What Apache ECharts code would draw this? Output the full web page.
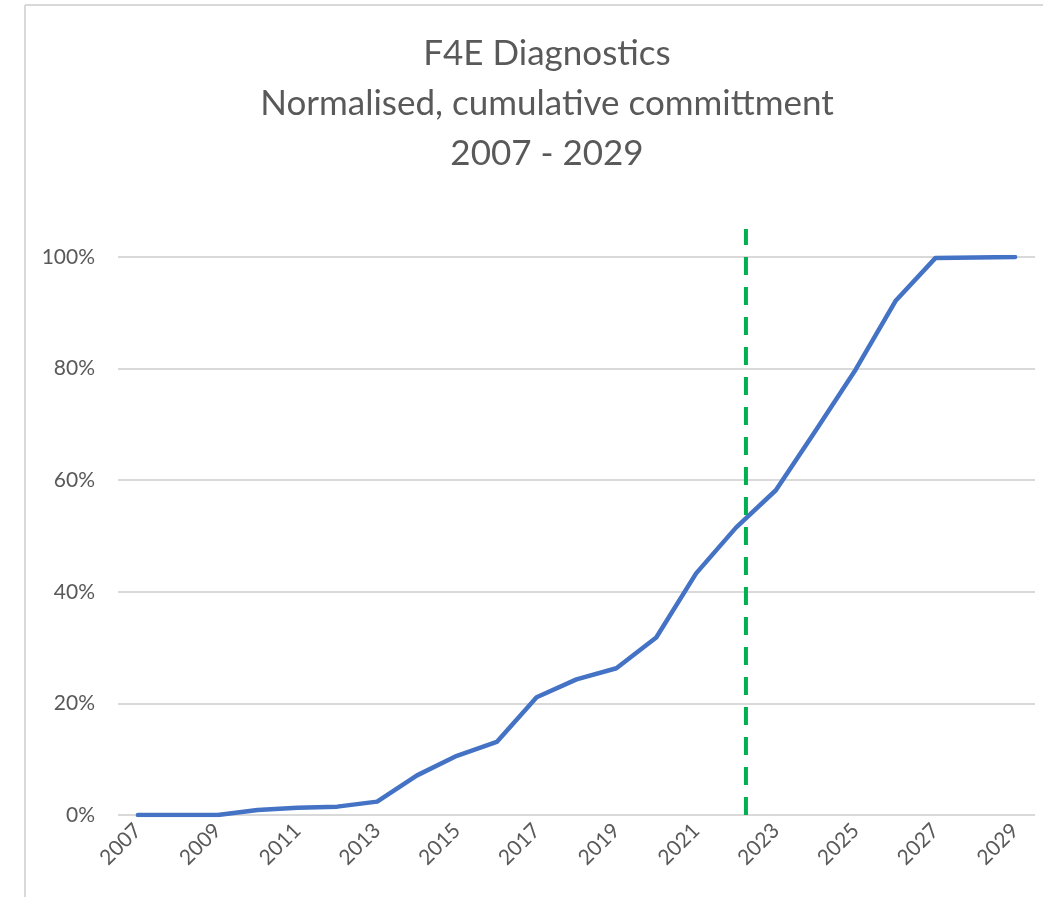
<!DOCTYPE html>
<html>
<head>
<meta charset="utf-8">
<script src="https://cdn.jsdelivr.net/npm/echarts@6/dist/echarts.min.js"></script>
<style>
html,body{margin:0;padding:0;background:#fff;}
#chart{width:1043px;height:897px;}
</style>
</head>
<body>
<div id="chart"></div>
<script>
// Data
var titleLines = ['F4E Diagnostics', 'Normalised, cumulative committment', '2007 - 2029'];
var years = ['2007','2008','2009','2010','2011','2012','2013','2014','2015','2016','2017','2018','2019','2020','2021','2022','2023','2024','2025','2026','2027','2028','2029'];
var commitment = [0, 0, 0, 0.009, 0.013, 0.015, 0.024, 0.071, 0.106, 0.131, 0.211, 0.243, 0.263, 0.318, 0.433, 0.515, 0.582, 0.689, 0.798, 0.921, 0.998, 0.999, 1.0];
var markerYear = 15.25; // position of the dashed marker, in category index units (~2022.25)
var markerRange = [0, 1.05];

var chart = echarts.init(document.getElementById('chart'));
var font = 'Lato, "Open Sans", sans-serif';
var option = {
  backgroundColor: '#ffffff',
  animation: false,
  title: {
    text: titleLines.join('\n'),
    left: 542,
    top: 24,
    textAlign: 'center',
    textStyle: {
      fontFamily: font,
      fontSize: 35,
      fontWeight: 'normal',
      color: '#595959',
      lineHeight: 50
    }
  },
  graphic: [
    { type: 'line', shape: { x1: 25, y1: 5, x2: 1043, y2: 5 }, style: { stroke: '#d9d9d9', lineWidth: 2 } },
    { type: 'line', shape: { x1: 25, y1: 5, x2: 25, y2: 897 }, style: { stroke: '#d9d9d9', lineWidth: 2 } }
  ],
  grid: { left: 118, right: 8, top: 257, bottom: 82, containLabel: false },
  xAxis: [{
    type: 'category',
    data: years,
    boundaryGap: true,
    axisLine: { show: false },
    axisTick: { show: false },
    axisLabel: {
      interval: 1,
      rotate: 45,
      color: '#595959',
      fontFamily: font,
      fontSize: 21,
      margin: 12
    },
    splitLine: { show: false }
  }, {
    type: 'value',
    min: -0.5,
    max: years.length - 0.5,
    show: false
  }],
  yAxis: {
    type: 'value',
    min: 0,
    max: 1,
    interval: 0.2,
    axisLine: { show: false },
    axisTick: { show: false },
    axisLabel: {
      color: '#595959',
      fontFamily: font,
      fontSize: 21,
      margin: 23,
      formatter: function (v) { return Math.round(v * 100) + '%'; }
    },
    splitLine: { lineStyle: { color: '#d9d9d9', width: 2 } }
  },
  series: [{
    type: 'line',
    data: commitment,
    xAxisIndex: 0,
    symbol: 'none',
    lineStyle: { color: '#4472C4', width: 4.5, cap: 'round', join: 'round' },
    z: 3
  }, {
    type: 'line',
    xAxisIndex: 1,
    data: [[markerYear, markerRange[0]], [markerYear, markerRange[1]]],
    symbol: 'none',
    clip: false,
    lineStyle: { color: '#00B050', width: 4, type: [18, 12] },
    z: 4
  }]
};
chart.setOption(option);
</script>
</body>
</html>
